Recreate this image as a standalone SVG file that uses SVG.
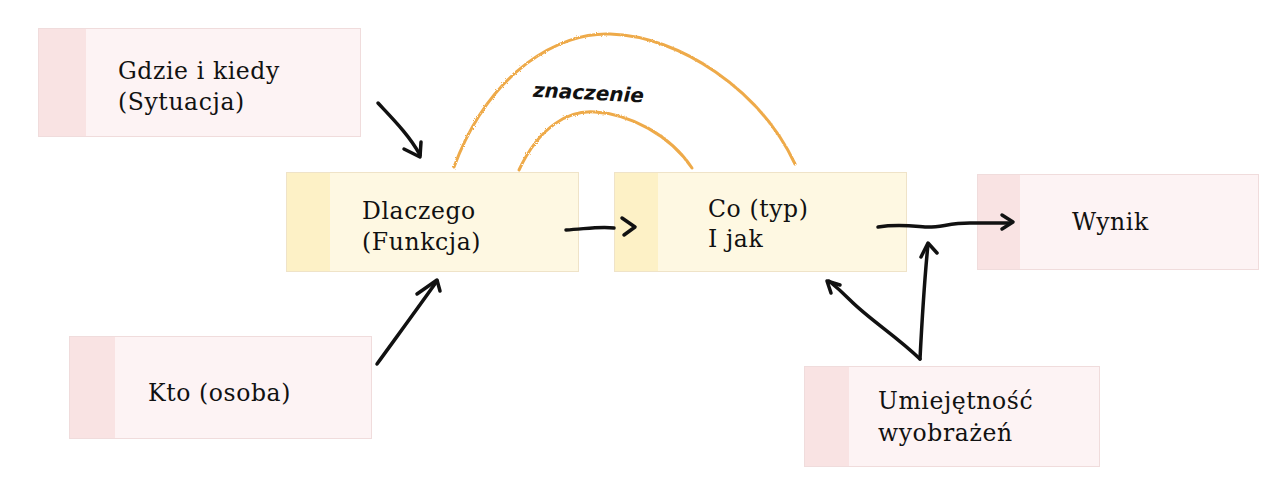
<svg xmlns="http://www.w3.org/2000/svg" width="1266" height="494" viewBox="0 0 1266 494">
<defs>
<filter id="rough" x="-5%" y="-5%" width="110%" height="110%">
<feTurbulence type="fractalNoise" baseFrequency="0.9" numOctaves="2" seed="3"/>
<feDisplacementMap in="SourceGraphic" scale="2.5"/>
</filter>
</defs>
<style>
.pink{fill:#fdf3f4;stroke:#f0dcdc;stroke-width:1}
.pinks{fill:#f9e3e3}
.yel{fill:#fef8e2;stroke:#efe3c8;stroke-width:1}
.yels{fill:#fdf1c6}
.t{font-family:"DejaVu Serif","Liberation Serif",serif;font-size:23.5px;letter-spacing:0.6px;fill:#111}
.ink{fill:none;stroke:#111;stroke-width:3.5;stroke-linecap:round;stroke-linejoin:round}
.arc{fill:none;stroke:#eeaa4a;stroke-width:3;stroke-linecap:round;filter:url(#rough)}
.hand{font-family:"DejaVu Sans","Noto Sans",sans-serif;font-size:20px;font-weight:bold;font-style:italic;fill:#111}
</style>
<rect width="1266" height="494" fill="#ffffff"/>
<g id="gdzie">
<rect class="pink" x="38.5" y="28.5" width="322" height="108"/>
<rect class="pinks" x="39" y="29" width="47" height="107"/>
<text class="t" x="118" y="79">Gdzie i kiedy</text>
<text class="t" x="118" y="110">(Sytuacja)</text>
</g>
<g id="dlaczego">
<rect class="yel" x="286.5" y="172.5" width="292" height="99"/>
<rect class="yels" x="287" y="173" width="43" height="98"/>
<text class="t" x="362" y="219">Dlaczego</text>
<text class="t" x="362" y="250">(Funkcja)</text>
</g>
<g id="co">
<rect class="yel" x="614.5" y="172.5" width="292" height="99"/>
<rect class="yels" x="615" y="173" width="43" height="98"/>
<text class="t" x="708" y="217">Co (typ)</text>
<text class="t" x="708" y="247">I jak</text>
</g>
<g id="wynik">
<rect class="pink" x="977.5" y="174.5" width="281" height="95"/>
<rect class="pinks" x="978" y="175" width="42" height="94"/>
<text class="t" x="1072" y="230">Wynik</text>
</g>
<g id="kto">
<rect class="pink" x="69.5" y="336.5" width="302" height="102"/>
<rect class="pinks" x="70" y="337" width="45" height="101"/>
<text class="t" x="148" y="401">Kto (osoba)</text>
</g>
<g id="umiejetnosc">
<rect class="pink" x="804.5" y="366.5" width="295" height="100"/>
<rect class="pinks" x="805" y="367" width="44" height="99"/>
<text class="t" x="878" y="409">Umiejętność</text>
<text class="t" x="878" y="441">wyobrażeń</text>
</g>
<g id="connectors">
<path class="arc" d="M454,167 C490,70 560,32 610,34 C680,36 760,90 795,164"/>
<path class="arc" d="M519,170 C540,125 570,110 595,112 C630,114 670,135 692,168"/>
<text class="hand" x="533" y="100" transform="rotate(3 596 92)">znaczenie</text>
<path class="ink" d="M378,103 C392,118 410,136 420,155"/>
<path class="ink" d="M404,149 L420,157 L421,142"/>
<path class="ink" d="M377,364 C398,335 420,305 437,281"/>
<path class="ink" d="M417,294 L437,280 L440,291"/>
<path class="ink" d="M566,230 C585,229 600,226 614,228"/>
<path class="ink" d="M622,218 L635,227 L624,235"/>
<path class="ink" d="M878,227 C898,224 912,226 925,227 C940,228 948,223 970,223 L1010,223"/>
<path class="ink" d="M1002,215 L1013,222 L1002,229"/>
<path class="ink" d="M920,359 C895,335 870,320 850,300 C840,290 834,285 829,281"/>
<path class="ink" d="M831,293 L827,281 L840,285"/>
<path class="ink" d="M920,359 C922,320 924,285 928,244"/>
<path class="ink" d="M921,257 L928,243 L937,253"/>
</g>
</svg>
